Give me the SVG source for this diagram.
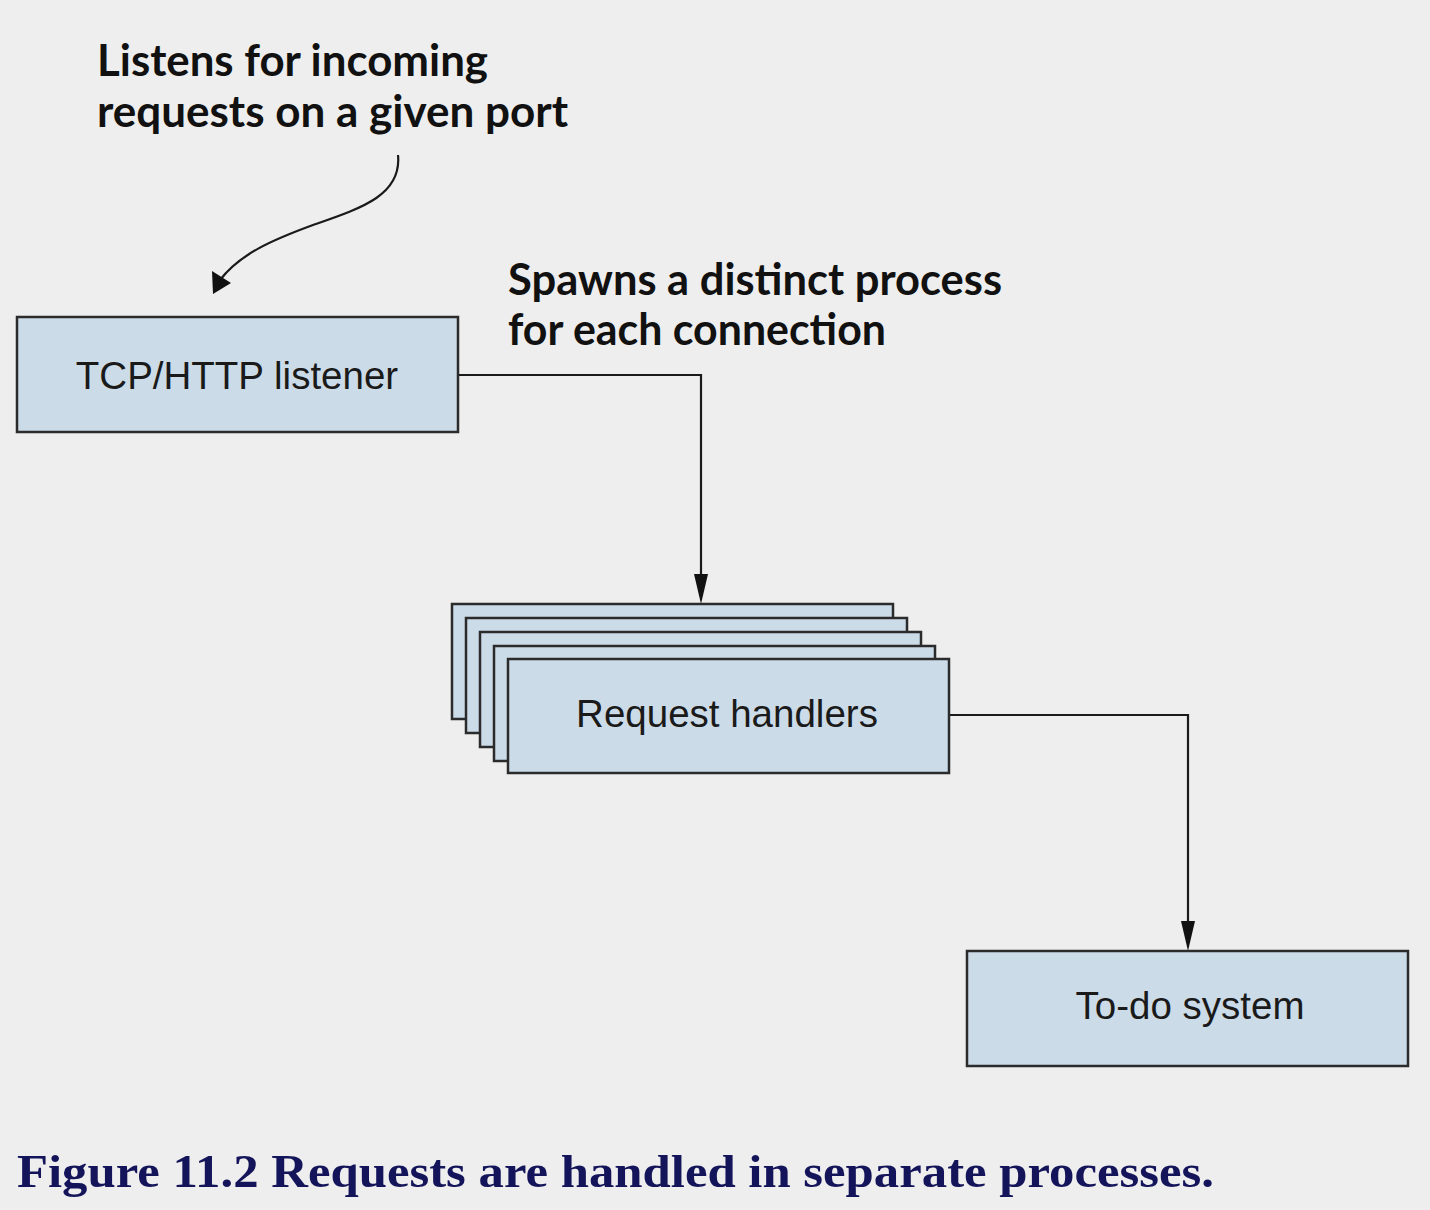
<svg xmlns="http://www.w3.org/2000/svg" width="1430" height="1210" viewBox="0 0 1430 1210">
<style>
.box{fill:#ccdbe8;stroke:#2b2b2b;stroke-width:2.5}
.lbl{font-family:"Liberation Sans",Arial,sans-serif;font-size:38.5px;fill:#1a1a1a;text-anchor:middle}
.ann{font-family:Lato,"Open Sans",sans-serif;font-weight:bold;font-size:44px;fill:#111}
.conn{fill:none;stroke:#1a1a1a;stroke-width:2.2}
.head{fill:#111}
.cap{font-family:"Liberation Serif","Times New Roman",serif;font-weight:bold;font-size:46px;fill:#14145a}
</style>
<rect width="1430" height="1210" fill="#eeeeee"/>
<g id="connectors">
<path class="conn" d="M458,375 H701 V580"/>
<path class="head" d="M694,574 L708,574 L701,604 Z"/>
<path class="conn" d="M949,715 H1188 V927"/>
<path class="head" d="M1181,921 L1195,921 L1188,951 Z"/>
<path class="conn" d="M398,155 C402,195 362,208 313,225 C272,240 240,254 220,280"/>
<path class="head" d="M212,271 L231,283 L213,294 Z"/>
</g>
<g id="tcp-listener">
<rect class="box" x="17" y="317" width="441" height="115"/>
<text class="lbl" x="237" y="389">TCP/HTTP listener</text>
</g>
<g id="request-handlers">
<rect class="box" x="452" y="604" width="441" height="115"/>
<rect class="box" x="466" y="618" width="441" height="115"/>
<rect class="box" x="480" y="632" width="441" height="115"/>
<rect class="box" x="494" y="646" width="441" height="115"/>
<rect class="box" x="508" y="659" width="441" height="114"/>
<text class="lbl" x="727" y="727">Request handlers</text>
</g>
<g id="todo-system">
<rect class="box" x="967" y="951" width="441" height="115"/>
<text class="lbl" x="1190" y="1019">To-do system</text>
</g>
<g id="annotation-listen">
<text class="ann" x="97" y="76" textLength="391" lengthAdjust="spacingAndGlyphs">Listens for incoming</text>
<text class="ann" x="97" y="127" textLength="471" lengthAdjust="spacingAndGlyphs">requests on a given port</text>
</g>
<g id="annotation-spawn">
<text class="ann" x="508" y="295" textLength="494" lengthAdjust="spacingAndGlyphs">Spawns a distinct process</text>
<text class="ann" x="508" y="345" textLength="378" lengthAdjust="spacingAndGlyphs">for each connection</text>
</g>
<text class="cap" x="17" y="1187" textLength="1197" lengthAdjust="spacingAndGlyphs">Figure 11.2 Requests are handled in separate processes.</text>
</svg>
